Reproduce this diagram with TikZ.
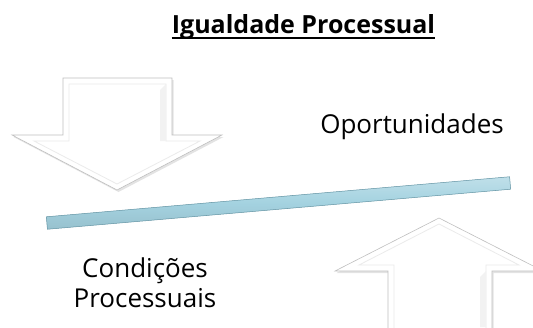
\documentclass[tikz,border=0pt]{standalone}
\usepackage{fontspec}
\setmainfont{Open Sans}
\usetikzlibrary{shadows,calc}
\definecolor{barblue}{RGB}{164,210,224}
\definecolor{baredge}{RGB}{96,146,162}
\tikzset{
  bigarrow/.style={fill=white, draw=gray!50, line width=0.6pt, line join=miter,
    drop shadow={shadow xshift=1.5pt, shadow yshift=-2pt, opacity=0.22, fill=gray}},
  bevel/.style={draw=gray!16, line width=0.8pt},
  label/.style={font=\fontsize{26}{30}\selectfont, inner sep=0pt, anchor=base},
}
\begin{document}
\begin{tikzpicture}[x=1pt,y=-1pt]
\useasboundingbox (0,0) rectangle (533,327);
% down arrow
\path[bigarrow] (63,78) -- (172,78) -- (172,135) -- (222,135) -- (117,190) -- (12,135) -- (63,135) -- cycle;
\draw[bevel] (69,84) -- (166,84) -- (166,141) -- (200,141) -- (117,184) -- (34,141) -- (69,141) -- cycle;
\fill[gray!10] (160,90) -- (166,84) -- (166,141) -- (160,141) -- cycle;
% up arrow
\path[bigarrow] (388,340) -- (388,271) -- (335,271) -- (439,218) -- (543,271) -- (492,271) -- (492,340) -- cycle;
\draw[bevel] (394,340) -- (394,265) -- (359,265) -- (439,224) -- (519,265) -- (486,265) -- (486,340);
\fill[gray!10] (480,277) -- (486,271) -- (486,327) -- (480,327) -- cycle;
% bar
\node[rotate=4.94, minimum width=465pt, minimum height=12.5pt, inner sep=0pt,
  top color=barblue!70!white, bottom color=barblue!92!black, middle color=barblue,
  draw=baredge, line width=0.5pt] (bar) at (278.5,203) {};
% texts
\node[label, font=\fontsize{25}{30}\selectfont\bfseries] (title) at (303.5,33) {Igualdade Processual};
\draw[line width=1.8pt] ($(title.base west)+(0,5)$) -- ($(title.base east)+(0,5)$);
\node[label] (op) at (412,133) {Oportunidades};
\node[label] (cp1) at (145,277) {Condições};
\node[label] (cp2) at (145,307) {Processuais};
\end{tikzpicture}
\end{document}
